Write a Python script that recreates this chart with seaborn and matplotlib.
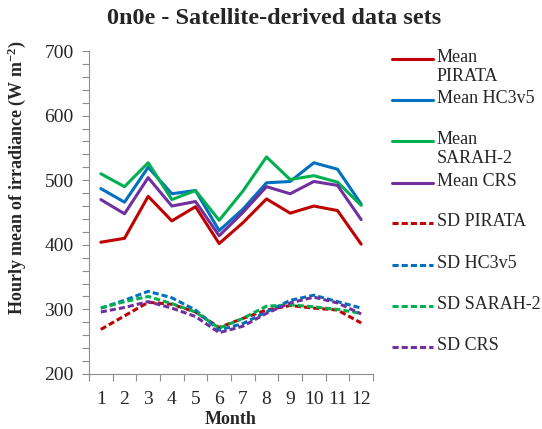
import numpy as np
import pandas as pd
import matplotlib
matplotlib.use("Agg")
import matplotlib.pyplot as plt
from matplotlib.lines import Line2D
from matplotlib.ticker import MultipleLocator
import seaborn as sns

months = list(range(1, 13))
month_labels = [str(m) for m in months]

# hourly mean irradiance (W m-2)
mean_pirata = [404, 410, 475, 437, 459, 402, 434, 471, 449, 460, 453, 401]
mean_hc3v5 = [487, 466, 520, 479, 484, 422, 455, 496, 498, 527, 517, 463]
mean_sarah2 = [510, 490, 527, 470, 484, 438, 483, 536, 501, 507, 497, 461]
mean_crs = [470, 448, 504, 460, 467, 414, 450, 490, 479, 498, 492, 439]

# standard deviations
sd_pirata = [269, 290, 311, 308, 296, 272, 286, 299, 306, 302, 299, 279]
sd_hc3v5 = [302, 314, 328, 318, 299, 268, 278, 296, 314, 322, 312, 302]
sd_sarah2 = [302, 312, 320, 309, 296, 271, 286, 305, 307, 304, 300, 294]
sd_crs = [296, 303, 312, 302, 289, 264, 274, 294, 310, 319, 310, 293]

series_names = ["Mean\nPIRATA", "Mean HC3v5", "Mean\nSARAH-2", "Mean CRS",
                "SD PIRATA", "SD HC3v5", "SD SARAH-2", "SD CRS"]
series_values = [mean_pirata, mean_hc3v5, mean_sarah2, mean_crs,
                 sd_pirata, sd_hc3v5, sd_sarah2, sd_crs]
palette = ["#C00000", "#0070C0", "#00B050", "#7030A0"] * 2
dashed = [False] * 4 + [True] * 4

sns.set_style("white")
plt.rcParams["font.family"] = ["Liberation Serif", "DejaVu Serif"]
plt.rcParams["mathtext.fontset"] = "custom"
plt.rcParams["mathtext.rm"] = "Liberation Serif"
plt.rcParams["mathtext.bf"] = "Liberation Serif:bold"
plt.rcParams["mathtext.default"] = "regular"

fig = plt.figure(figsize=(5.42, 4.29), dpi=100)
W, H = 542, 429
ax = fig.add_axes([89 / W, 1 - 374 / H, (373 - 89) / W, (374 - 51) / H])

lw = 2.2
for name, vals, col, dsh in zip(series_names, series_values, palette, dashed):
    df = pd.DataFrame({"month": months, "value": vals})
    sns.lineplot(data=df, x="month", y="value", color=col, lw=lw, ax=ax,
                 legend=False)
    if dsh:
        ax.lines[-1].set_dashes([2, 1])

ax.set_xlim(0.5, 12.5)
ax.set_ylim(200, 700)
ax.set_xticks(months)
ax.set_xticklabels(month_labels)
ax.xaxis.set_minor_locator(MultipleLocator(1, offset=0.5))
ax.yaxis.set_major_locator(MultipleLocator(100))
ax.yaxis.set_minor_locator(MultipleLocator(20))

axis_grey = "#8c8c8c"
ax.tick_params(axis="x", which="major", length=0, pad=12, labelsize=14)
ax.tick_params(axis="x", which="minor", length=5, width=0.8, color=axis_grey,
               direction="out", bottom=True)
ax.tick_params(axis="y", which="both", length=5, width=0.8, color=axis_grey,
               direction="out", left=True, pad=6)
ax.tick_params(axis="y", which="major", labelsize=14)
for s in ["top", "right"]:
    ax.spines[s].set_visible(False)
for s in ["left", "bottom"]:
    ax.spines[s].set_color(axis_grey)
    ax.spines[s].set_linewidth(0.8)

ax.set_xlabel("Month", fontsize=13, fontweight="bold")
ax.set_ylabel("Hourly mean of irradiance (W m$^{-2}$)", fontsize=13,
              fontweight="bold")
ax.xaxis.set_label_coords(0.5, -(411 - 374) / 323)
ax.yaxis.set_label_coords((28 - 89) / 284, (374 - 178) / 323)

fig.text(274 / W, 1 - 19 / H, "0n0e - Satellite-derived data sets",
         ha="center", va="center", fontsize=17.5, fontweight="bold")

# legend drawn beside the axes
legend_y = [59, 100, 141, 183, 223, 265, 306, 347]
for name, col, dsh, y in zip(series_names, palette, dashed, legend_y):
    ln = Line2D([392 / W, 433 / W], [1 - y / H, 1 - y / H], color=col, lw=lw,
                transform=fig.transFigure)
    if dsh:
        ln.set_dashes([2, 1])
    fig.add_artist(ln)
    fig.text(437 / W, 1 - (y - 10) / H, name, ha="left", va="top",
             fontsize=13, linespacing=1.15)

fig.savefig("out.png", dpi=100)
